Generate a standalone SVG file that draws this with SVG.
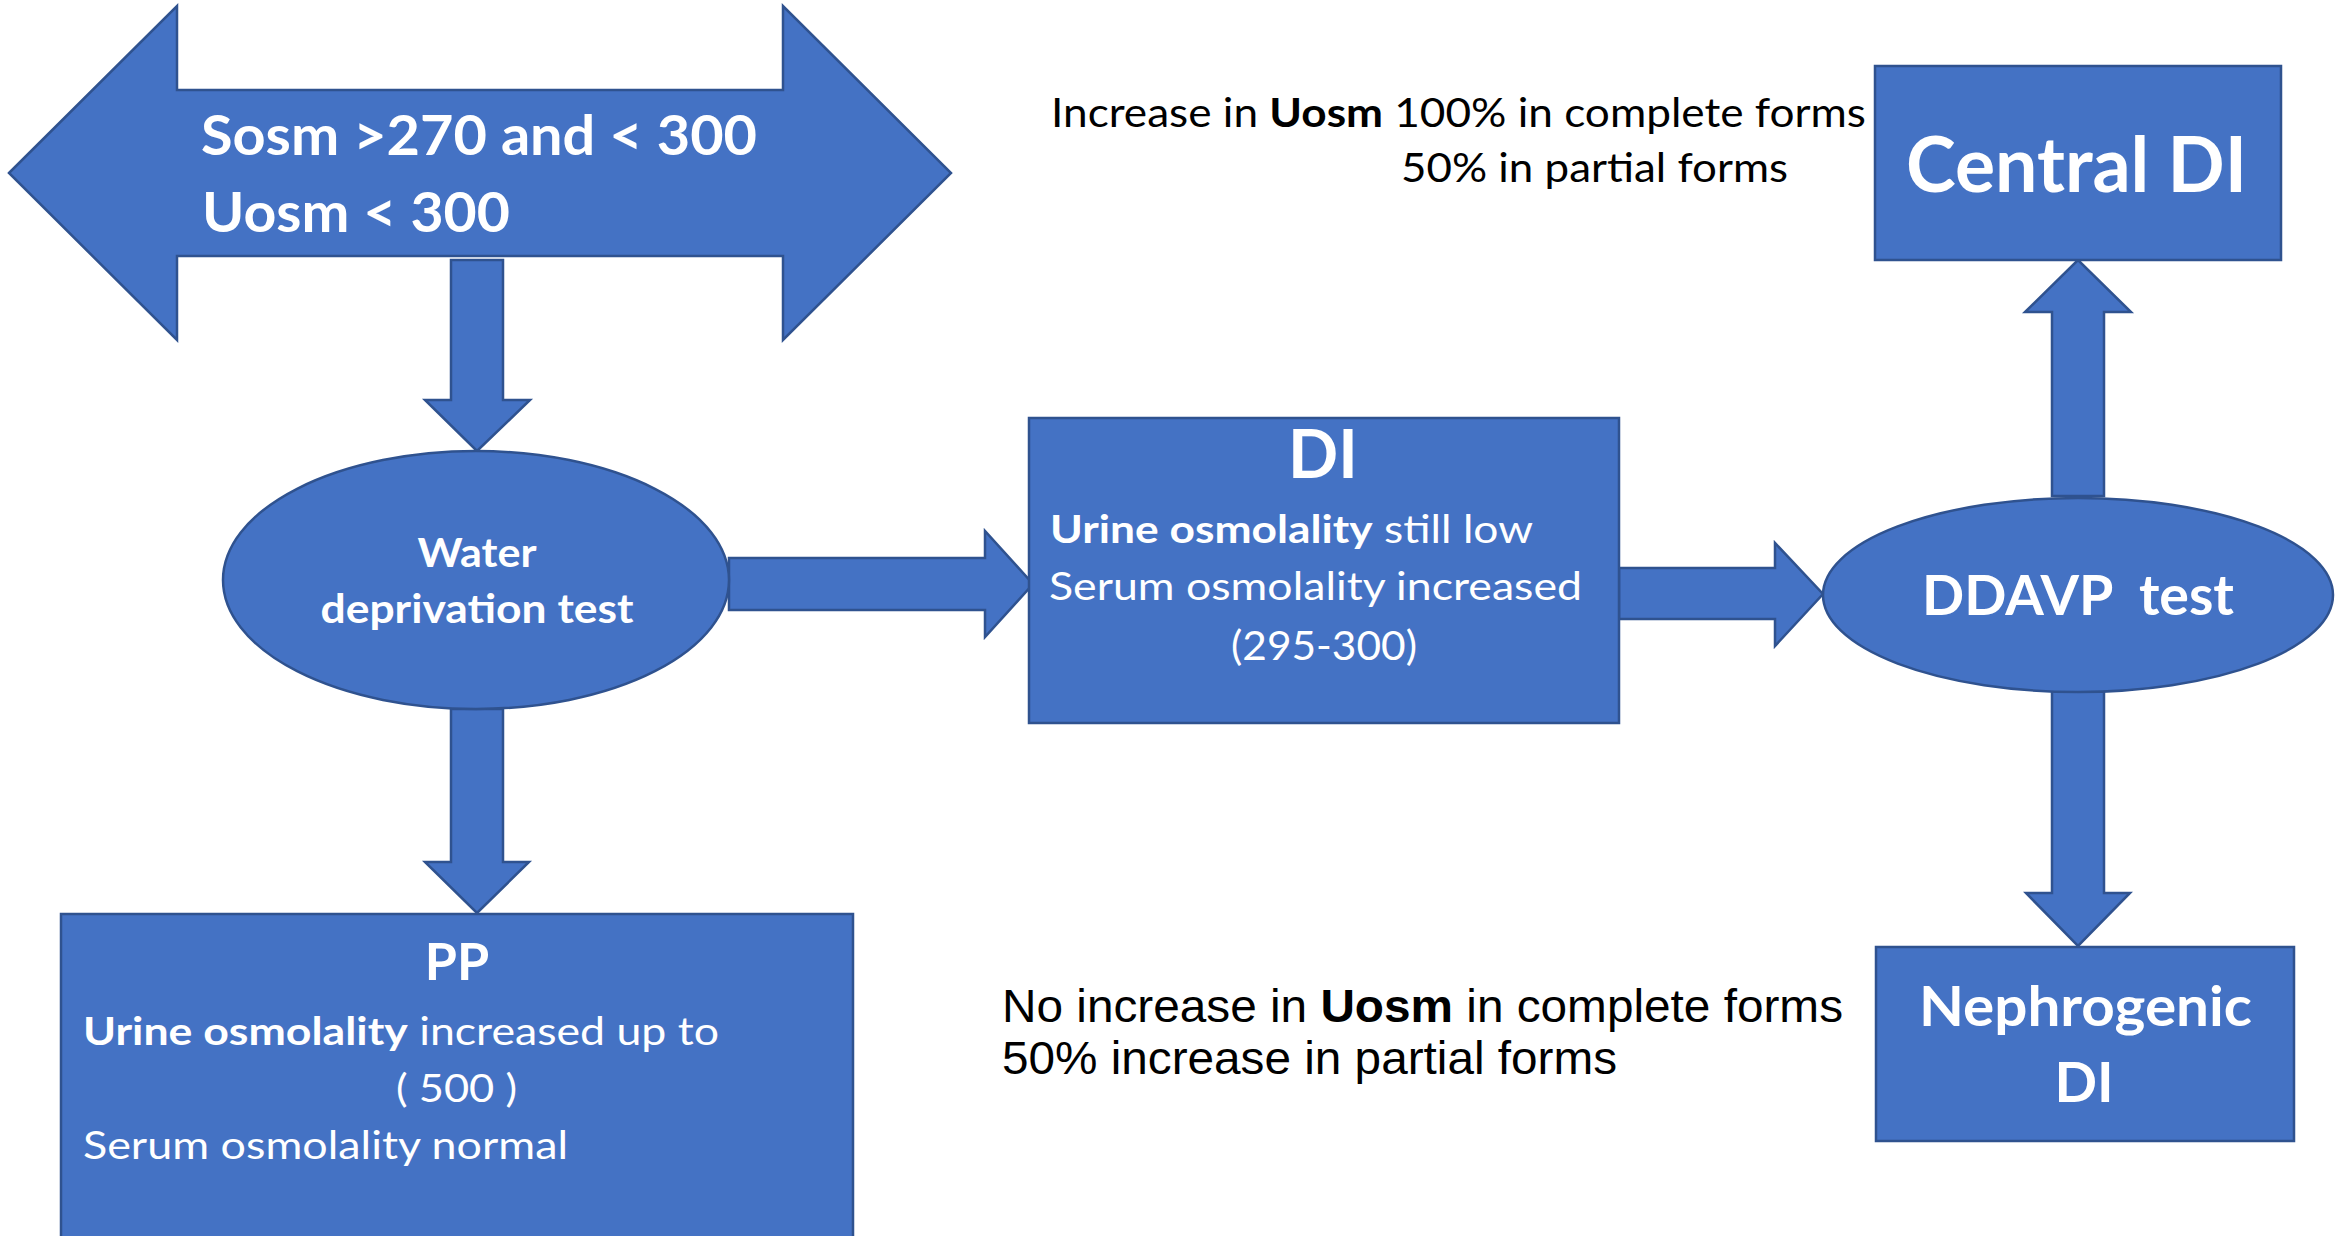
<svg xmlns="http://www.w3.org/2000/svg" width="2344" height="1236" viewBox="0 0 2344 1236">
<style>
.shape{fill:#4472C4;stroke:#2F528F;stroke-width:2.5}
.wt{fill:#ffffff;font-family:Lato,"Open Sans","Liberation Sans",sans-serif}
.bt{fill:#000000;font-family:Lato,"Open Sans","Liberation Sans",sans-serif}
.at{fill:#000000;font-family:"Liberation Sans",Arial,sans-serif}
.b{font-weight:bold}
</style>
<rect width="2344" height="1236" fill="#ffffff"/>
<g id="connectors">
<polygon class="shape" points="451,260 503,260 503,400 530,400 477,451 425,400 451,400"/>
<polygon class="shape" points="729,558 985,558 985,531 1033,584 985,637 985,610 729,610"/>
<polygon class="shape" points="451,709 503,709 503,862 529,862 477,913 425,862 451,862"/>
<polygon class="shape" points="1619,568 1775,568 1775,543 1823,594 1775,646 1775,619 1619,619"/>
<polygon class="shape" points="2052,496 2052,312 2025,312 2078,260 2131,312 2104,312 2104,496"/>
<polygon class="shape" points="2052,691 2104,691 2104,893 2130,893 2078,946 2026,893 2052,893"/>
</g>
<g id="start">
<polygon class="shape" points="9,173 177,6 177,90 783,90 783,6 951,173 783,340 783,256 177,256 177,340"/>
<text class="wt b" x="201" y="155" font-size="56" textLength="556" lengthAdjust="spacingAndGlyphs">Sosm &gt;270 and &lt; 300</text>
<text class="wt b" x="202" y="232" font-size="56" textLength="308" lengthAdjust="spacingAndGlyphs">Uosm &lt; 300</text>
</g>
<g id="water">
<ellipse class="shape" cx="476" cy="580" rx="253" ry="129"/>
<text class="wt b" x="477" y="567" font-size="40" text-anchor="middle" textLength="119" lengthAdjust="spacingAndGlyphs">Water</text>
<text class="wt b" x="477" y="623" font-size="40" text-anchor="middle" textLength="313" lengthAdjust="spacingAndGlyphs">deprivation test</text>
</g>
<g id="di">
<rect class="shape" x="1029" y="418" width="590" height="305"/>
<text class="wt b" x="1323" y="478" font-size="66" text-anchor="middle">DI</text>
<text class="wt" x="1050" y="543" font-size="39" textLength="483" lengthAdjust="spacingAndGlyphs"><tspan class="b">Urine osmolality</tspan> still low</text>
<text class="wt" x="1049" y="600" font-size="39" textLength="533" lengthAdjust="spacingAndGlyphs">Serum osmolality increased</text>
<text class="wt" x="1324" y="660" font-size="41" text-anchor="middle" textLength="186" lengthAdjust="spacingAndGlyphs">(295-300)</text>
</g>
<g id="ddavp">
<ellipse class="shape" cx="2078" cy="595" rx="255" ry="97"/>
<text class="wt b" x="1922" y="615" font-size="56" textLength="312" lengthAdjust="spacingAndGlyphs" xml:space="preserve">DDAVP  test</text>
</g>
<g id="central">
<rect class="shape" x="1875" y="66" width="406" height="194"/>
<text class="wt b" x="1906" y="192" font-size="77" textLength="341" lengthAdjust="spacingAndGlyphs">Central DI</text>
</g>
<g id="central-note">
<text class="bt" x="1051" y="127" font-size="40" textLength="815" lengthAdjust="spacingAndGlyphs">Increase in <tspan class="b">Uosm</tspan> 100% in complete forms</text>
<text class="bt" x="1401" y="182" font-size="40" textLength="387" lengthAdjust="spacingAndGlyphs">50% in partial forms</text>
</g>
<g id="nephrogenic">
<rect class="shape" x="1876" y="947" width="418" height="194"/>
<text class="wt b" x="1919" y="1026" font-size="56" textLength="333" lengthAdjust="spacingAndGlyphs">Nephrogenic</text>
<text class="wt b" x="2084" y="1102" font-size="56" text-anchor="middle">DI</text>
</g>
<g id="nephro-note">
<text class="at" x="1002" y="1022" font-size="46" textLength="841" lengthAdjust="spacingAndGlyphs">No increase in <tspan class="b">Uosm</tspan> in complete forms</text>
<text class="at" x="1002" y="1074" font-size="46" textLength="615" lengthAdjust="spacingAndGlyphs">50% increase in partial forms</text>
</g>
<g id="pp">
<rect class="shape" x="61" y="914" width="792" height="330"/>
<text class="wt b" x="457" y="980" font-size="52" text-anchor="middle">PP</text>
<text class="wt" x="83" y="1045" font-size="39" textLength="636" lengthAdjust="spacingAndGlyphs"><tspan class="b">Urine osmolality</tspan> increased up to</text>
<text class="wt" x="396" y="1102" font-size="39" textLength="121" lengthAdjust="spacingAndGlyphs">( 500 )</text>
<text class="wt" x="83" y="1159" font-size="39" textLength="485" lengthAdjust="spacingAndGlyphs">Serum osmolality normal</text>
</g>
</svg>
